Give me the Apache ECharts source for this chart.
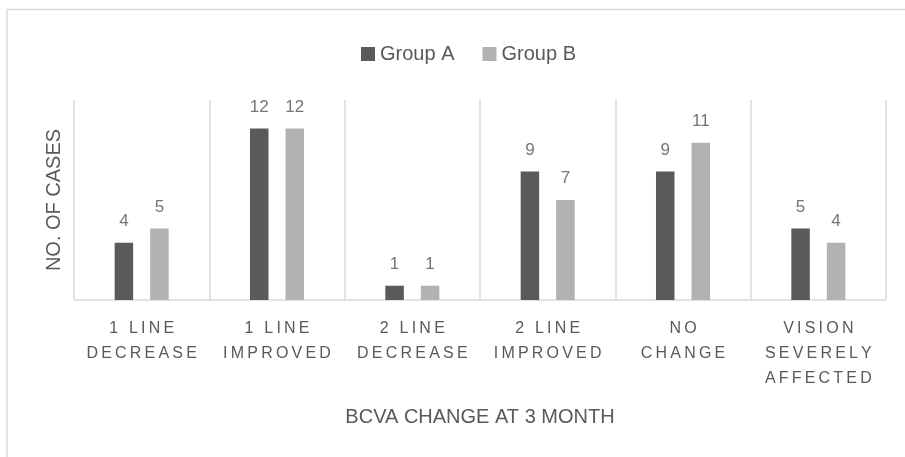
<!DOCTYPE html>
<html>
<head>
<meta charset="utf-8">
<script src="https://cdn.jsdelivr.net/npm/echarts@6/dist/echarts.min.js"></script>
<style>
  html, body { margin: 0; padding: 0; background: #ffffff; }
  #chart { width: 905px; height: 457px; }
</style>
</head>
<body>
<div id="chart"></div>
<script>
// Outcome categories (line breaks as printed under the axis)
const categories = [
  '1 LINE\nDECREASE',
  '1 LINE\nIMPROVED',
  '2 LINE\nDECREASE',
  '2 LINE\nIMPROVED',
  'NO\nCHANGE',
  'VISION\nSEVERELY\nAFFECTED'
];
// Number of cases per group
const groupA = [4, 12, 1, 9, 9, 5];
const groupB = [5, 12, 1, 7, 11, 4];
const seriesNames = ['Group A', 'Group B'];

const FONT = 'Liberation Sans, Arial, sans-serif';
const TEXT = '#595959';
const RULE = '#d9d9d9';

// Spread out the letters of the category labels
function spaced(text) {
  return text.split('\n').map(line => Array.from(line).join('\u2009')).join('\n');
}

const chart = echarts.init(document.getElementById('chart'));
chart.setOption({
  animation: false,
  backgroundColor: '#ffffff',
  graphic: [{
    type: 'rect',
    shape: { x: 7, y: 9.5, width: 1000, height: 1000 },
    style: { fill: 'none', stroke: RULE, lineWidth: 1.5 },
    silent: true
  }],
  legend: {
    data: seriesNames,
    left: 356,
    top: 39,
    itemWidth: 14,
    itemHeight: 14,
    itemGap: 28,
    icon: 'rect',
    textStyle: { fontFamily: FONT, fontSize: 20, color: TEXT }
  },
  grid: { left: 74, right: 19, top: 100, bottom: 157, containLabel: false },
  xAxis: {
    type: 'category',
    data: categories,
    name: 'BCVA CHANGE AT 3 MONTH',
    nameLocation: 'middle',
    nameGap: 107,
    nameTextStyle: { fontFamily: FONT, fontSize: 20, color: TEXT },
    axisLine: { show: true, lineStyle: { color: RULE, width: 1.5 } },
    axisTick: { show: false },
    splitLine: { show: true, lineStyle: { color: RULE, width: 1.5 } },
    axisLabel: {
      interval: 0,
      margin: 16,
      fontFamily: FONT,
      fontSize: 16,
      lineHeight: 25,
      color: TEXT,
      formatter: spaced
    }
  },
  yAxis: {
    type: 'value',
    min: 0,
    max: 14,
    interval: 2,
    name: 'NO. OF CASES',
    nameLocation: 'middle',
    nameGap: 10,
    nameTextStyle: { fontFamily: FONT, fontSize: 20, color: TEXT },
    axisLine: { show: false },
    axisTick: { show: false },
    axisLabel: { show: false },
    splitLine: { show: false }
  },
  series: [
    {
      name: seriesNames[0],
      type: 'bar',
      data: groupA,
      barWidth: 18.5,
      barGap: '92%',
      itemStyle: { color: '#5a5a5a' },
      label: { show: true, position: 'top', distance: 13, fontFamily: FONT, fontSize: 17, color: '#757575' }
    },
    {
      name: seriesNames[1],
      type: 'bar',
      data: groupB,
      barWidth: 18.5,
      barGap: '92%',
      itemStyle: { color: '#b2b2b2' },
      label: { show: true, position: 'top', distance: 13, fontFamily: FONT, fontSize: 17, color: '#757575' }
    }
  ]
});
</script>
</body>
</html>
